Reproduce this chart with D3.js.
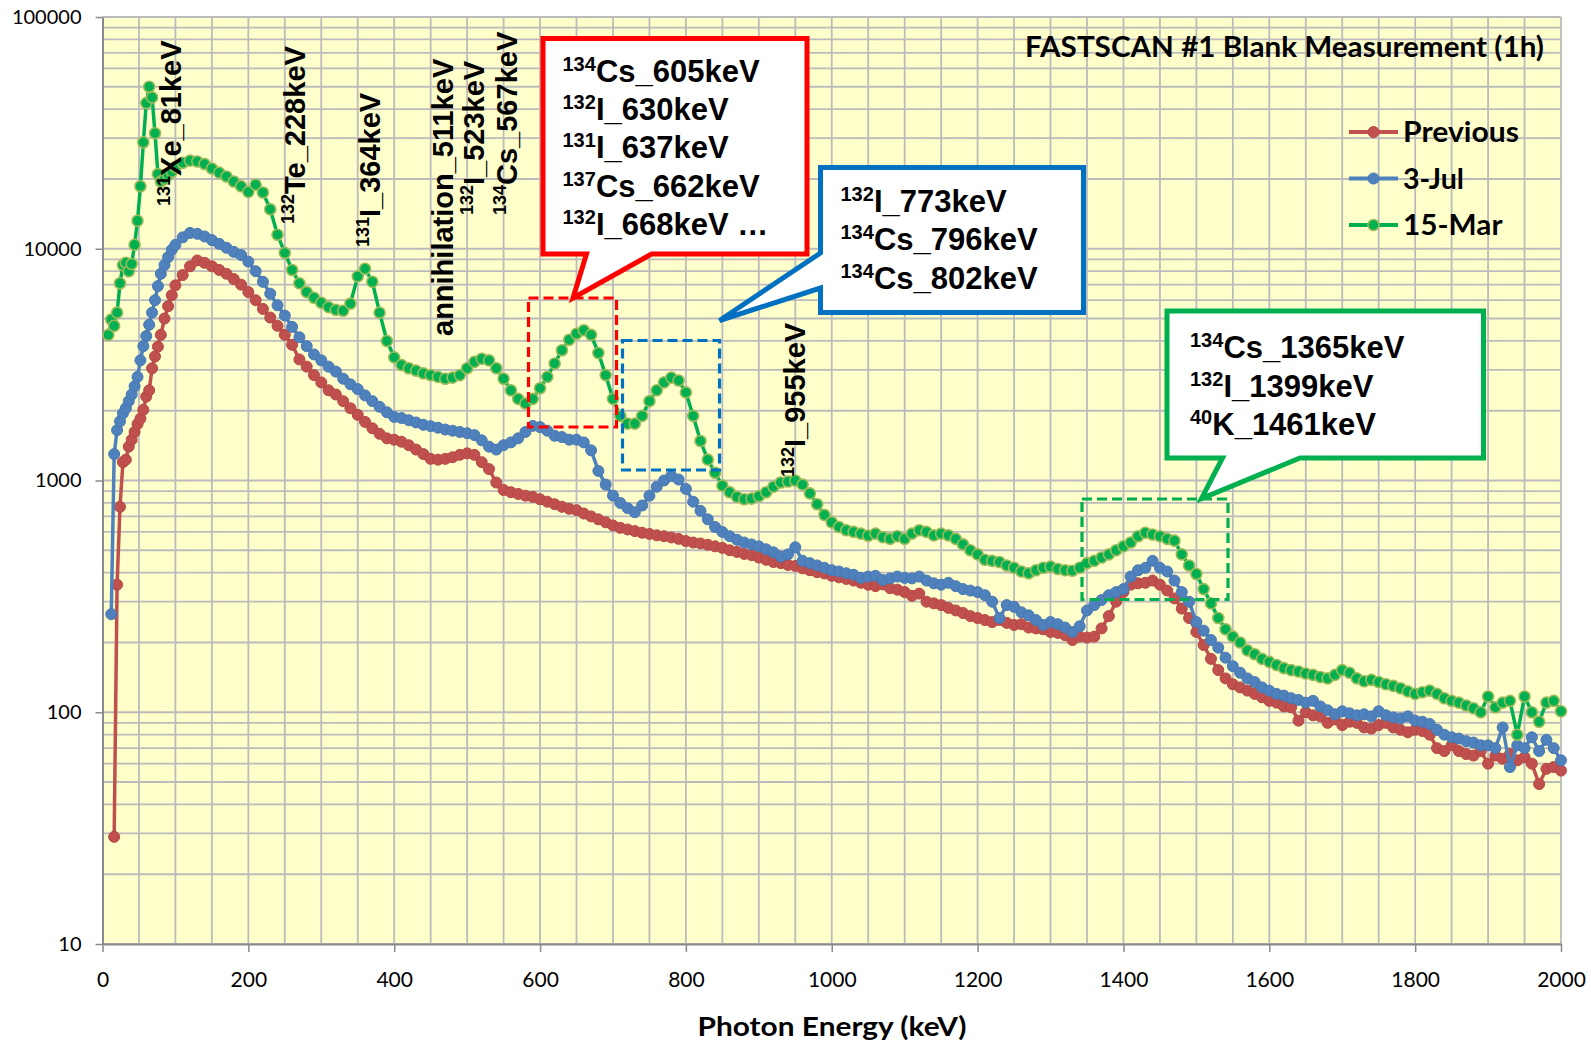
<!DOCTYPE html>
<html>
<head>
<meta charset="utf-8">
<script src="https://cdn.jsdelivr.net/npm/d3@7"></script>
<style>
  body { margin: 0; background: #fff; }
</style>
</head>
<body>
<div id="chart"></div>
<script>
// photon energy of each channel (keV)
const energy = [
  8, 12, 16, 20, 24, 28, 32, 36, 40, 44, 48, 52, 56, 60, 64, 68, 72, 76, 80, 85, 90, 95, 100,
  110, 120, 130, 140, 150, 160, 170, 180, 190, 200,
  210, 220, 230, 240, 250, 260, 270, 280, 290, 300,
  310, 320, 330, 340, 350, 360, 370, 380, 390, 400,
  410, 420, 430, 440, 450, 460, 470, 480, 490, 500,
  510, 520, 530, 540, 550, 560, 570, 580, 590, 600,
  610, 620, 630, 640, 650, 660, 670, 680, 690, 700,
  710, 720, 730, 740, 750, 760, 770, 780, 790, 800,
  810, 820, 830, 840, 850, 860, 870, 880, 890, 900,
  910, 920, 930, 940, 950, 960, 970, 980, 990, 1000,
  1010, 1020, 1030, 1040, 1050, 1060, 1070, 1080, 1090, 1100,
  1110, 1120, 1130, 1140, 1150, 1160, 1170, 1180, 1190, 1200,
  1210, 1220, 1230, 1240, 1250, 1260, 1270, 1280, 1290, 1300,
  1310, 1320, 1330, 1340, 1350, 1360, 1370, 1380, 1390, 1400,
  1410, 1420, 1430, 1440, 1450, 1460, 1470, 1480, 1490, 1500,
  1510, 1520, 1530, 1540, 1550, 1560, 1570, 1580, 1590, 1600,
  1610, 1620, 1630, 1640, 1650, 1660, 1670, 1680, 1690, 1700,
  1710, 1720, 1730, 1740, 1750, 1760, 1770, 1780, 1790, 1800,
  1810, 1820, 1830, 1840, 1850, 1860, 1870, 1880, 1890, 1900,
  1910, 1920, 1930, 1940, 1950, 1960, 1970, 1980, 1990, 2000
];

// counts, series "Previous"
const previous = [
  null, null, 29, 355, 770, 1200, 1230, 1400, 1500, 1620, 1750, 1850, 2020, 2300, 2450, 3050, 3430, 3780, 4250, 5000, 5650, 6300, 6950,
  7700, 8400, 8900, 8700, 8400, 8100, 7800, 7400, 7000, 6500,
  6000, 5500, 5050, 4650, 4250, 3850, 3330, 3100, 2850, 2650,
  2450, 2350, 2200, 2050, 1920, 1790, 1680, 1590, 1520, 1500,
  1470, 1420, 1360, 1300, 1240, 1230, 1240, 1260, 1290, 1310,
  1290, 1200, 1120, 980, 910, 890, 875, 860, 850, 830,
  810, 790, 770, 755, 745, 720, 700, 680, 660, 640,
  625, 615, 605, 595, 588, 580, 575, 568, 560, 548,
  540, 535, 528, 520, 512, 500, 492, 482, 476, 465,
  455, 445, 440, 432, 428, 418, 410, 402, 397, 388,
  382, 376, 370, 362, 355, 350, 356, 343, 338, 330,
  318, 325, 300, 295, 290, 282, 275, 268, 260, 255,
  250, 245, 250, 243, 238, 240, 232, 230, 228, 222,
  220, 215, 205, 212, 210, 212, 230, 260, 300, 330,
  355, 360, 362, 370, 355, 335, 310, 280, 255, 222,
  195, 170, 152, 140, 132, 128, 124, 120, 116, 112,
  110, 106, 105, 92, 100, 97, 96, 90, 93, 88,
  91, 90, 86, 85, 88, 90, 86, 84, 82, 84,
  83, 80, 70, 68, 72, 68, 66, 65, 68, 60,
  65, 63, 66, 62, 64, 60, 49, 57, 58, 56
];

// counts, series "3-Jul"
const jul3 = [
  null, 265, 1300, 1650, 1800, 1950, 2050, 2200, 2350, 2550, 2800, 3300, 3800, 4200, 4700, 5300, 6000, 6900, 7800, 8500, 9200, 9900, 10400,
  11200, 11700, 11600, 11300, 10900, 10500, 10100, 9700, 9400, 8800,
  8000, 7200, 6400, 5700, 5150, 4600, 4150, 3800, 3500, 3300,
  3100, 2950, 2750, 2600, 2480, 2330, 2200, 2080, 1970, 1880,
  1860, 1820, 1780, 1740, 1715, 1690, 1660, 1640, 1620, 1600,
  1570, 1490, 1400, 1360, 1420, 1460, 1520, 1620, 1720, 1700,
  1640, 1560, 1540, 1500, 1500, 1460, 1350, 1100, 960, 860,
  800, 760, 730, 780, 860, 940, 1000, 1045, 1010, 920,
  810, 740, 680, 630, 600, 575, 555, 540, 530, 520,
  505, 490, 470, 480, 515, 450, 440, 430, 420, 410,
  405, 398, 392, 380, 385, 388, 372, 378, 385, 380,
  378, 385, 370, 360, 355, 362, 350, 340, 335, 330,
  320, 300, 255, 290, 285, 270, 262, 250, 238, 245,
  240, 232, 222, 235, 275, 290, 305, 320, 330, 340,
  385, 410, 420, 450, 420, 405, 370, 330, 300, 245,
  225, 205, 190, 172, 158, 148, 140, 135, 128, 124,
  120, 118, 115, 113, 110, 112, 106, 102, 98, 101,
  99, 97, 98, 96, 101, 97, 95, 94, 96, 92,
  91, 89, 84, 80, 78, 77, 75, 74, 72, 72,
  70, 86, 58, 72, 70, 78, 68, 76, 70, 62
];

// counts, series "15-Mar"
const mar15 = [
  4250, 4950, 4650, 5300, 7100, 8500, 8700, 8000, 8600, 10400, 13200, 18600, 28800, 42500, 50000, 45000, 31500, 21000, 19500, 20000, 20800, 21500, 22500,
  23500, 24000, 23800, 23200, 22200, 21300, 20500, 19500, 18600, 17600,
  18900, 17500, 14800, 11500, 9600, 8100, 7100, 6500, 6150, 5850,
  5600, 5450, 5400, 5800, 7600, 8200, 7200, 5300, 4000, 3400,
  3150, 3050, 2980, 2900, 2850, 2800, 2750, 2780, 2850, 3050,
  3250, 3350, 3300, 3050, 2750, 2450, 2250, 2150, 2250, 2500,
  2800, 3200, 3650, 4050, 4300, 4450, 4250, 3550, 2850, 2250,
  1900, 1760, 1760, 1900, 2200, 2450, 2650, 2780, 2700, 2400,
  1900, 1480, 1230, 1080, 950, 890, 850, 830, 835, 855,
  890, 940, 980, 990, 1000, 960, 880, 790, 710, 660,
  630, 610, 600, 590, 578, 590, 570, 560, 575, 560,
  590, 610, 600, 580, 590, 580, 560, 530, 500, 480,
  455, 450, 445, 430, 420, 405, 398, 410, 420, 425,
  415, 410, 408, 420, 440, 450, 465, 480, 500, 520,
  540, 575, 595, 585, 575, 560, 550, 480, 430, 395,
  340, 295, 255, 228, 212, 200, 185, 178, 170, 165,
  160, 155, 152, 150, 147, 145, 142, 140, 145, 152,
  148, 140, 136, 138, 135, 132, 130, 127, 123, 120,
  122, 124, 120, 115, 112, 110, 107, 104, 100, 117,
  105, 110, 112, 80, 117, 100, 91, 110, 112, 101
];

const seriesNames = ["Previous", "3-Jul", "15-Mar"];
const xTickValues = [0, 200, 400, 600, 800, 1000, 1200, 1400, 1600, 1800, 2000];
const yTickValues = [10, 100, 1000, 10000, 100000];
const chartTitle = "FASTSCAN #1 Blank Measurement (1h)";
const xAxisTitle = "Photon Energy (keV)";

// vertical peak labels: [mass number, rest]
const peakLabels = [
  ["131", "Xe_81keV"], ["132", "Te_228keV"], ["131", "I_364keV"], ["", "annihilation_511keV"],
  ["132", "I_523keV"], ["134", "Cs_567keV"], ["132", "I_955keV"]
];
const redNotes = [["134", "Cs_605keV"], ["132", "I_630keV"], ["131", "I_637keV"], ["137", "Cs_662keV"], ["132", "I_668keV \u2026"]];
const blueNotes = [["132", "I_773keV"], ["134", "Cs_796keV"], ["134", "Cs_802keV"]];
const greenNotes = [["134", "Cs_1365keV"], ["132", "I_1399keV"], ["40", "K_1461keV"]];

const width = 1591;
const height = 1045;
const plot = { left: 102.5, right: 1561, top: 17, bottom: 944 };

const svg = d3.select("#chart").append("svg")
    .attr("width", width)
    .attr("height", height)
    .style("font-family", "Lato, 'Liberation Sans', sans-serif");

const x = d3.scaleLinear().domain([0, 2000]).range([plot.left, plot.right]);
const y = d3.scaleLog().domain([10, 100000]).range([plot.bottom, plot.top]);

// plot background + grid
svg.append("rect")
    .attr("x", plot.left).attr("y", plot.top)
    .attr("width", plot.right - plot.left).attr("height", plot.bottom - plot.top)
    .attr("fill", "#ffffcc");

const grid = svg.append("g").attr("stroke", "#bbbbbb").attr("stroke-width", 1.8);
grid.selectAll("line.v")
    .data(d3.range(50, 2001, 50))
    .enter().append("line")
    .attr("x1", d => x(d)).attr("x2", d => x(d))
    .attr("y1", plot.top).attr("y2", plot.bottom);
grid.selectAll("line.h")
    .data(y.ticks())
    .enter().append("line")
    .attr("x1", plot.left).attr("x2", plot.right)
    .attr("y1", d => y(d)).attr("y2", d => y(d));

// axes
const yAxis = svg.append("g")
    .attr("transform", `translate(${plot.left},0)`)
    .call(d3.axisLeft(y).tickValues(yTickValues).tickFormat(d3.format("d")).tickSize(7).tickSizeOuter(0).tickPadding(14));
const xAxis = svg.append("g")
    .attr("transform", `translate(0,${plot.bottom})`)
    .call(d3.axisBottom(x).tickValues(xTickValues).tickFormat(d3.format("d")).tickSize(8).tickSizeOuter(0));
[yAxis, xAxis].forEach(g => {
    g.select(".domain").attr("stroke", "#8a8a8a").attr("stroke-width", 2);
    g.selectAll(".tick line").attr("stroke", "#8a8a8a").attr("stroke-width", 1.5);
    g.selectAll("text").attr("fill", "#000").style("font-family", "Lato").attr("font-size", 20);
});
xAxis.selectAll("text").attr("y", 43).attr("dy", 0).attr("font-size", 21);

svg.append("text")
    .attr("x", 832).attr("y", 1036)
    .attr("text-anchor", "middle")
    .attr("font-weight", "bold").attr("font-size", 26)
    .attr("textLength", 269).attr("lengthAdjust", "spacingAndGlyphs")
    .text(xAxisTitle);

// series
const series = [
    { name: seriesNames[0], values: previous, line: "#c0504d", fill: "#c0504d", stroke: "#b64845", sw: 1 },
    { name: seriesNames[1], values: jul3, line: "#4f81bd", fill: "#4f81bd", stroke: "#4878b2", sw: 1 },
    { name: seriesNames[2], values: mar15, line: "#00b050", fill: "#00b050", stroke: "#9bbb59", sw: 1.6 }
];

const line = d3.line()
    .defined(d => d[1] != null)
    .x(d => x(d[0]))
    .y(d => y(d[1]));

series.forEach(s => {
    const pts = energy.map((e, i) => [e, s.values[i]]);
    const g = svg.append("g");
    g.append("path")
        .datum(pts)
        .attr("fill", "none")
        .attr("stroke", s.line)
        .attr("stroke-width", 3.5)
        .attr("stroke-linejoin", "round")
        .attr("d", line);
    g.selectAll("circle")
        .data(pts.filter(d => d[1] != null))
        .enter().append("circle")
        .attr("cx", d => x(d[0]))
        .attr("cy", d => y(d[1]))
        .attr("r", 5.5)
        .attr("fill", s.fill)
        .attr("stroke", s.stroke)
        .attr("stroke-width", s.sw);
});

// title
svg.append("text")
    .attr("x", 1544).attr("y", 57)
    .attr("text-anchor", "end")
    .attr("font-weight", "bold").attr("font-size", 28)
    .attr("textLength", 519).attr("lengthAdjust", "spacingAndGlyphs")
    .text(chartTitle);

// legend
const legendY = [132, 178.5, 225];
const legendW = [116, 61, 99.5];
series.forEach((s, i) => {
    const g = svg.append("g").attr("transform", `translate(0,${legendY[i]})`);
    g.append("line").attr("x1", 1349).attr("x2", 1398).attr("y1", 0).attr("y2", 0)
        .attr("stroke", s.line).attr("stroke-width", 4);
    g.append("circle").attr("cx", 1373.5).attr("cy", 0).attr("r", 5.5)
        .attr("fill", s.fill).attr("stroke", s.stroke).attr("stroke-width", s.sw);
    g.append("text").attr("x", 1403).attr("y", 10)
        .attr("font-weight", "bold").attr("font-size", 28)
        .attr("textLength", legendW[i]).attr("lengthAdjust", "spacingAndGlyphs")
        .text(s.name);
});

// text with a leading superscript mass number
function isotope(sel, sup, rest, supSize, mainSize, shift) {
    if (sup) sel.append("tspan").attr("font-size", supSize).attr("dy", -shift).text(sup);
    sel.append("tspan").attr("font-size", mainSize).attr("dy", sup ? shift : 0).text(rest);
}

// dashed boxes around the peak regions
const dashBoxes = [
    { x0: 528.5, y0: 298, x1: 616.5, y1: 427, color: "#ff0000" },
    { x0: 622.5, y0: 340.5, x1: 719.5, y1: 470, color: "#0070c0" },
    { x0: 1082, y0: 499, x1: 1228, y1: 599.5, color: "#00b050" }
];
dashBoxes.forEach(b => {
    svg.append("rect")
        .attr("x", b.x0).attr("y", b.y0)
        .attr("width", b.x1 - b.x0).attr("height", b.y1 - b.y0)
        .attr("fill", "none").attr("stroke", b.color)
        .attr("stroke-width", 3.2).attr("stroke-dasharray", "10,5");
});

// callouts
const callouts = [
    { color: "#ff0000", notes: redNotes, tx: 562.5, ty: 81.5, dy: 38.4,
      path: [[543, 38.5], [807, 38.5], [807, 254], [651.5, 254], [573, 298], [586.5, 254], [543, 254]] },
    { color: "#0070c0", notes: blueNotes, tx: 840.5, ty: 212, dy: 38.3,
      path: [[820.5, 167.5], [1083.5, 167.5], [1083.5, 312.5], [820.5, 312.5], [820.5, 288], [719.5, 320.5], [820.5, 253]] },
    { color: "#00b050", notes: greenNotes, tx: 1190, ty: 358, dy: 38.5,
      path: [[1167, 311], [1483.5, 311], [1483.5, 458], [1300, 458], [1201.5, 498.5], [1222.5, 458], [1167, 458]] }
];
callouts.forEach(c => {
    svg.append("path")
        .attr("d", "M" + c.path.map(p => p.join(",")).join("L") + "Z")
        .attr("fill", "#ffffff")
        .attr("stroke", c.color)
        .attr("stroke-width", 5)
        .attr("stroke-linejoin", "miter");
    c.notes.forEach((n, i) => {
        const t = svg.append("text")
            .attr("x", c.tx).attr("y", c.ty + i * c.dy)
            .attr("font-family", "'Liberation Sans', Arial, sans-serif")
            .attr("font-weight", "bold").attr("fill", "#000");
        isotope(t, n[0], n[1], 20, 31, 11);
    });
});

// vertical peak labels
const peakPos = [[181, 206], [305, 224], [380, 247], [453, 336], [484, 215], [517, 215], [805, 477]];
peakLabels.forEach((p, i) => {
    const t = svg.append("text")
        .attr("transform", `translate(${peakPos[i][0]},${peakPos[i][1]}) rotate(-90)`)
        .attr("font-family", "'Liberation Sans', Arial, sans-serif")
        .attr("font-weight", "bold").attr("fill", "#000");
    isotope(t, p[0], p[1], 18, 29, 11);
});
</script>
</body>
</html>
